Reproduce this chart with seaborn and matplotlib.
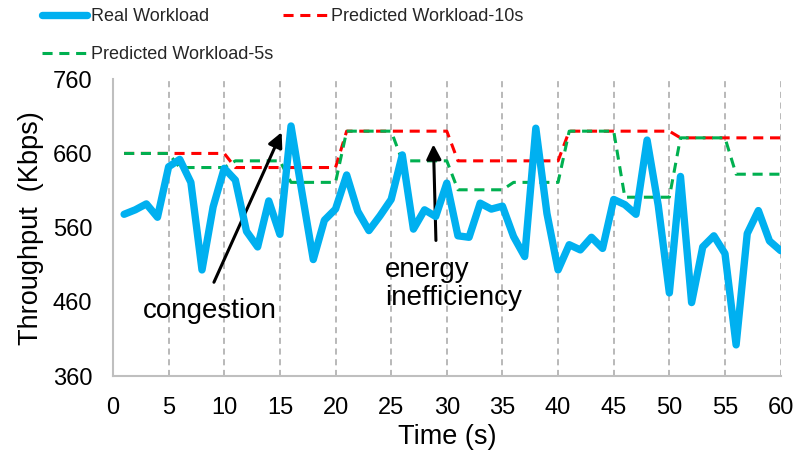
import matplotlib
matplotlib.use('Agg')
import matplotlib.pyplot as plt
import pandas as pd
import seaborn as sns
from matplotlib import font_manager

# time axis (s) and the three workload series (Kbps)
time_s = list(range(1, 61))
real_workload = [578, 584, 592, 574, 642, 652, 621, 503, 588, 640,
                 624, 555, 534, 596, 551, 697, 606, 517, 570, 585,
                 631, 582, 556, 576, 598, 658, 558, 584, 575, 620,
                 549, 547, 593, 585, 589, 548, 521, 694, 579, 503,
                 537, 530, 547, 532, 598, 591, 578, 678, 590, 472,
                 629, 459, 534, 549, 525, 402, 552, 583, 542, 529]
pred_10s = [660, 660, 660, 660, 660, 660, 660, 660, 660, 660,
            641, 641, 641, 641, 641, 641, 641, 641, 641, 641,
            690, 690, 690, 690, 690, 690, 690, 690, 690, 690,
            650, 650, 650, 650, 650, 650, 650, 650, 650, 650,
            690, 690, 690, 690, 690, 690, 690, 690, 690, 690,
            681, 681, 681, 681, 681, 681, 681, 681, 681, 681]
pred_5s = [660, 660, 660, 660, 660, 641, 641, 641, 641, 641,
           650, 650, 650, 650, 650, 621, 621, 621, 621, 621,
           690, 690, 690, 690, 690, 650, 650, 650, 650, 650,
           611, 611, 611, 611, 611, 621, 621, 621, 621, 621,
           690, 690, 690, 690, 690, 601, 601, 601, 601, 601,
           681, 681, 681, 681, 681, 632, 632, 632, 632, 632]

sns.set_theme(style='white')
plt.rcParams['font.family'] = ['Liberation Sans', 'DejaVu Sans']

installed = {f.name for f in font_manager.fontManager.ttflist}
if 'Liberation Sans Narrow' in installed:
    legend_font = {'family': 'Liberation Sans Narrow', 'size': 15.5}
else:
    legend_font = {'family': 'Liberation Sans', 'size': 13}

df = pd.DataFrame({'time': time_s, 'real': real_workload,
                   'p10': pred_10s, 'p5': pred_5s})

fig, ax = plt.subplots(figsize=(7.99, 4.66), dpi=100)
fig.subplots_adjust(left=0.1414, right=0.977, bottom=0.193, top=0.830)

dash = (0, (3.3, 2.2))
sns.lineplot(data=df, x='time', y='p10', ax=ax, color='#FF0000', lw=2.2,
             linestyle=dash, label='Predicted Workload-10s', zorder=2)
sns.lineplot(data=df, x='time', y='p5', ax=ax, color='#00B050', lw=2.2,
             linestyle=dash, label='Predicted Workload-5s', zorder=3)
sns.lineplot(data=df, x='time', y='real', ax=ax, color='#00B0F0', lw=5.3,
             solid_capstyle='round', solid_joinstyle='round',
             label='Real Workload', zorder=4)

ax.set_xlim(0, 60)
ax.set_ylim(360, 760)
ax.set_xticks(range(0, 61, 5))
ax.set_yticks(range(360, 761, 100))
ax.set_axisbelow(True)
ax.grid(axis='x', linestyle=(0, (4, 3)), color='#a6a6a6', lw=1.1)
ax.grid(axis='y', visible=False)

for side in ['top', 'right']:
    ax.spines[side].set_visible(False)
for side in ['left', 'bottom']:
    ax.spines[side].set_color('#bfbfbf')
    ax.spines[side].set_linewidth(1.5)
ax.tick_params(axis='both', which='major', direction='out', length=5,
               width=1.5, color='#bfbfbf', labelsize=17, labelcolor='black')
ax.tick_params(axis='y', pad=10)
ax.tick_params(axis='x', pad=10)

ax.set_xlabel('Time (s)', fontsize=19.5, color='black', labelpad=4)
ax.set_ylabel('Throughput  (Kbps)', fontsize=19.5, color='black', labelpad=6)

# annotations
arrow = dict(arrowstyle='-|>', color='black', lw=2.2, mutation_scale=22)
ax.annotate('', xy=(15.26, 692), xytext=(8.97, 483), arrowprops=arrow)
ax.text(8.72, 447, 'congestion', ha='center', va='center', fontsize=20,
        color='black')
ax.annotate('', xy=(28.79, 676), xytext=(29.03, 539), arrowprops=arrow)
ax.text(24.45, 484, 'energy\ninefficiency', ha='left', va='center',
        fontsize=20, color='black', linespacing=1.12)

# legend on top, two columns
handles, labels = ax.get_legend_handles_labels()
ax.get_legend().remove()
order = [labels.index('Real Workload'), labels.index('Predicted Workload-5s'),
         labels.index('Predicted Workload-10s')]
fig.legend([handles[i] for i in order], [labels[i] for i in order],
           loc='upper left', bbox_to_anchor=(0.032, 1.017), ncol=2,
           frameon=False, prop=legend_font, handlelength=2.5,
           handletextpad=0.2, columnspacing=0.55, labelspacing=1.15)

fig.savefig('out.png', dpi=100)
